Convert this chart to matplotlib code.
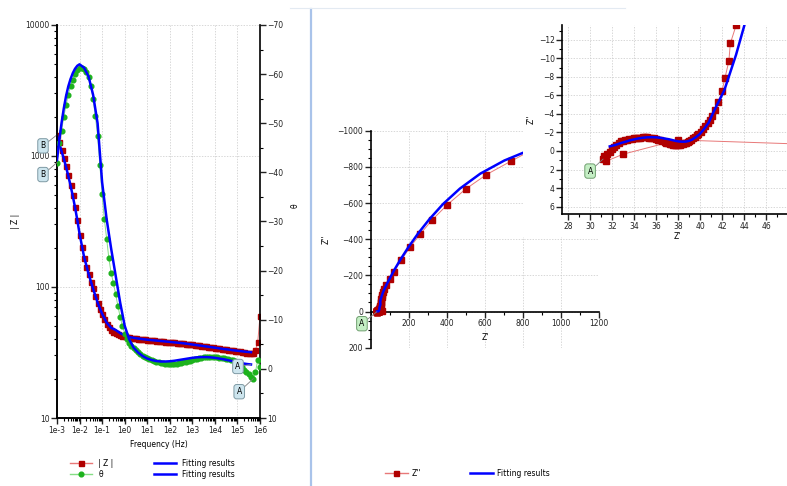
import numpy as np
import matplotlib.pyplot as plt
from matplotlib.lines import Line2D
from matplotlib.ticker import LogLocator, MultipleLocator, FuncFormatter, NullFormatter, FixedLocator

plt.rcParams['font.family'] = ['DejaVu Sans']
plt.rcParams['font.size'] = 5.5
plt.rcParams['axes.linewidth'] = 1.2

# Measured spectrum (10 points per decade), log10 of frequency in Hz
log_f = [-3.0, -2.9, -2.8, -2.7, -2.6, -2.5, -2.4, -2.3, -2.2, -2.1,
         -2.0, -1.9, -1.8, -1.7, -1.6, -1.5, -1.4, -1.3, -1.2, -1.1,
         -1.0, -0.9, -0.8, -0.7, -0.6, -0.5, -0.4, -0.3, -0.2, -0.1,
         0.0, 0.1, 0.2, 0.3, 0.4, 0.5, 0.6, 0.7, 0.8, 0.9,
         1.0, 1.1, 1.2, 1.3, 1.4, 1.5, 1.6, 1.7, 1.8, 1.9,
         2.0, 2.1, 2.2, 2.3, 2.4, 2.5, 2.6, 2.7, 2.8, 2.9,
         3.0, 3.1, 3.2, 3.3, 3.4, 3.5, 3.6, 3.7, 3.8, 3.9,
         4.0, 4.1, 4.2, 4.3, 4.4, 4.5, 4.6, 4.7, 4.8, 4.9,
         5.0, 5.1, 5.2, 5.3, 5.4, 5.5, 5.6, 5.7, 5.8, 5.9,
         6.0]
z_mod = [1450, 1270, 1110, 970, 840, 715, 600, 500, 410, 325,
         250, 203, 167, 143, 125, 110, 98, 86, 75, 68,
         62, 56.5, 52, 49.2, 47, 45.4, 44.3, 43.7, 43, 42.5,
         42, 41.6, 41.3, 41.0, 40.8, 40.5, 40.3, 40.1, 39.9, 39.75,
         39.6, 39.4, 39.2, 39.05, 38.9, 38.75, 38.6, 38.45, 38.3, 38.15,
         38.0, 37.85, 37.7, 37.55, 37.4, 37.25, 37.1, 36.95, 36.8, 36.6,
         36.4, 36.2, 36.0, 35.8, 35.6, 35.4, 35.2, 35.0, 34.8, 34.6,
         34.4, 34.2, 34.0, 33.8, 33.6, 33.4, 33.2, 33.0, 32.8, 32.6,
         32.4, 32.2, 32.0, 31.8, 31.5, 31.3, 31.2, 31.5, 33, 38,
         60]
theta = [-42, -46, -48.5, -51.3, -53.7, -55.8, -57.6, -58.9, -60, -60.8,
         -61.3, -61.3, -61, -60.4, -59.5, -57.6, -55, -51.5, -47.5, -41.5,
         -35.5, -30.5, -26.5, -22.5, -19.5, -17.5, -15.2, -12.8, -10.6, -8.8,
         -7.2, -6.1, -5.3, -4.7, -4.2, -3.8, -3.4, -3.0, -2.7, -2.45,
         -2.2, -2.0, -1.8, -1.65, -1.5, -1.35, -1.25, -1.15, -1.05, -1.0,
         -0.95, -0.93, -0.95, -1.0, -1.1, -1.2, -1.3, -1.42, -1.55, -1.68,
         -1.8, -1.95, -2.1, -2.2, -2.3, -2.35, -2.4, -2.42, -2.4, -2.38,
         -2.35, -2.32, -2.3, -2.22, -2.15, -2.08, -2.0, -1.9, -1.8, -1.55,
         -1.2, -0.8, -0.3, 0.2, 0.6, 1.0, 1.6, 2.0, 0.6, -1.8,
         -0.3]

# Fitted model
log_f_fit = [-3.0, -2.9, -2.8, -2.7, -2.6, -2.5, -2.4, -2.3, -2.2, -2.1,
             -2.0, -1.8, -1.6, -1.4, -1.2, -1.0, -0.8, -0.6, -0.4, -0.2,
             0.0, 0.2, 0.4, 0.6, 0.8, 1.0, 1.2, 1.4, 1.6, 1.8,
             2.0, 2.2, 2.4, 2.6, 2.8, 3.0, 3.2, 3.4, 3.6, 3.8,
             4.0, 4.2, 4.4, 4.6, 4.8, 5.0, 5.2, 5.4, 5.6]
z_fit = [1420, 1245, 1090, 955, 825, 705, 595, 495, 405, 325,
         255, 170, 126, 97, 76, 62.5, 53.5, 48.8, 47, 44.5,
         42.7, 41.5, 40.9, 40.4, 40.0, 39.6, 39.3, 39.0, 38.7, 38.4,
         38.1, 37.8, 37.5, 37.2, 36.8, 36.4, 36.0, 35.6, 35.2, 34.8,
         34.4, 34.0, 33.6, 33.3, 32.9, 32.6, 32.3, 32.0, 31.8]
theta_fit = [-42.5, -46.5, -50, -53, -55.5, -57.5, -59, -60.2, -61.1, -61.7,
             -62, -61.3, -59.5, -55.8, -50, -38, -30.5, -24.5, -19, -13.5,
             -8.8, -6.0, -4.3, -3.3, -2.6, -2.1, -1.8, -1.6, -1.5, -1.5,
             -1.55, -1.65, -1.8, -1.95, -2.1, -2.25, -2.35, -2.4, -2.4, -2.35,
             -2.25, -2.1, -1.95, -1.75, -1.55, -1.35, -1.15, -1.0, -0.9]

freq = 10.0 ** np.array(log_f)
freq_fit = 10.0 ** np.array(log_f_fit)

# Nyquist coordinates from |Z| and phase
z_re = np.array(z_mod) * np.cos(np.radians(theta))
z_im = np.array(z_mod) * np.sin(np.radians(theta))
z_re_fit = np.array(z_fit) * np.cos(np.radians(theta_fit))
z_im_fit = np.array(z_fit) * np.sin(np.radians(theta_fit))

RED_M = '#b00000'
RED_L = '#e87878'
GREEN_M = '#1db21d'
GREEN_L = '#86dd86'
BLUE = '#0000ff'
GRID = dict(color='#c8c8c8', ls=(0, (2, 2)), lw=0.5)
W, H = 787, 486


def box(x0, y0, x1, y1):
    # pixel box (top-left origin) -> figure fraction rect
    return [x0 / W, 1 - y1 / H, (x1 - x0) / W, (y1 - y0) / H]


def style_ticks(ax):
    ax.tick_params(which='major', direction='out', length=4, width=1.0, pad=1.5, labelsize=5.5, colors='#222222')
    ax.tick_params(which='minor', direction='out', length=2.2, width=0.8)


fig = plt.figure(figsize=(W / 100, H / 100), dpi=100)

# separators of the two windows
fig.add_artist(Line2D([311 / W, 311 / W], [0, 1 - 9 / H], transform=fig.transFigure, color='#a9c3ea', lw=1.6))
fig.add_artist(Line2D([290 / W, 625 / W], [1 - 8 / H, 1 - 8 / H], transform=fig.transFigure, color='#e3eaf2', lw=0.8))

# ---------------- Bode plot ----------------
ax1 = fig.add_axes(box(57, 25, 260, 418))
ax1.set_xscale('log')
ax1.set_yscale('log')
ax1.set_xlim(1e-3, 1e6)
ax1.set_ylim(10, 10000)
ax1.plot(freq, z_mod, color=RED_L, lw=0.7, marker='s', ms=3.6, mfc=RED_M, mec=RED_M, zorder=3)
ax1.plot(freq_fit, z_fit, color=BLUE, lw=1.8, zorder=4)
ax1.xaxis.set_major_locator(LogLocator(base=10, numticks=20))
ax1.xaxis.set_minor_locator(LogLocator(base=10, subs=np.arange(2, 10), numticks=20))
ax1.xaxis.set_major_formatter(FuncFormatter(lambda v, p: '1e%d' % round(np.log10(v))))
ax1.xaxis.set_minor_formatter(NullFormatter())
ax1.yaxis.set_major_locator(FixedLocator([10, 100, 1000, 10000]))
ax1.yaxis.set_major_formatter(FuncFormatter(lambda v, p: '%d' % v))
ax1.yaxis.set_minor_locator(LogLocator(base=10, subs=np.arange(2, 10), numticks=20))
ax1.yaxis.set_minor_formatter(NullFormatter())
ax1.grid(which='major', **GRID)
for s in ['top', 'right']:
    ax1.spines[s].set_visible(False)
style_ticks(ax1)
ax1.set_xlabel('Frequency (Hz)', fontsize=5.5)
ax1.xaxis.set_label_coords(0.5, -0.055)
ax1.set_ylabel('| Z |', fontsize=5.5)
ax1.yaxis.set_label_coords(-0.18, 0.5)

ax2 = ax1.twinx()
ax2.set_ylim(10, -70)
ax2.plot(freq, theta, color=GREEN_L, lw=0.7, marker='o', ms=3.4, mfc=GREEN_M, mec=GREEN_M, zorder=3)
ax2.plot(freq_fit, theta_fit, color=BLUE, lw=1.8, zorder=4)
ax2.yaxis.set_major_locator(MultipleLocator(10))
ax2.yaxis.set_minor_locator(MultipleLocator(5))
ax2.spines['top'].set_visible(False)
style_ticks(ax2)
ax2.set_ylabel('θ', fontsize=5.5)
ax2.yaxis.set_label_coords(1.15, 0.54)

lbl_b = dict(boxstyle='round,pad=0.35', fc='#cde5ee', ec='#7e9aa4', lw=0.7)
arr = dict(arrowstyle='-', color='#808080', lw=0.6, shrinkA=0, shrinkB=0)
ax1.annotate('B', xy=(freq[0], z_mod[0]), xytext=(-14, -11), textcoords='offset pixels',
             ha='center', va='center', fontsize=5.5, bbox=lbl_b, arrowprops=arr, annotation_clip=False, zorder=6)
ax2.annotate('B', xy=(freq[0], theta[0]), xytext=(-14, -12), textcoords='offset pixels',
             ha='center', va='center', fontsize=5.5, bbox=lbl_b, arrowprops=arr, annotation_clip=False, zorder=6)
ax2.annotate('A', xy=(freq_fit[-1], theta_fit[-1]), xytext=(-13, -2), textcoords='offset pixels',
             ha='center', va='center', fontsize=5.5, bbox=lbl_b, arrowprops=arr, zorder=6)
ax2.annotate('A', xy=(freq[87], theta[87]), xytext=(-14, -13), textcoords='offset pixels',
             ha='center', va='center', fontsize=5.5, bbox=lbl_b, arrowprops=arr, zorder=6)

h_z = Line2D([], [], color=RED_L, lw=1.0, marker='s', ms=3.6, mfc=RED_M, mec=RED_M)
h_t = Line2D([], [], color=GREEN_L, lw=1.0, marker='o', ms=3.4, mfc=GREEN_M, mec=GREEN_M)
h_f = Line2D([], [], color=BLUE, lw=1.8)
fig.legend([h_z, h_t, h_f, h_f], ['| Z |', 'θ', 'Fitting results', 'Fitting results'],
           ncol=2, loc='upper left', bbox_to_anchor=(70 / W, 1 - 459 / H), frameon=False, fontsize=5.5,
           handlelength=2.9, handletextpad=0.8, columnspacing=5.3, labelspacing=0.2,
           borderpad=0, borderaxespad=0)

# ---------------- Nyquist plot ----------------
ax3 = fig.add_axes(box(371, 130.7, 599.3, 347.7))
ax3.set_xlim(0, 1200)
ax3.set_ylim(200, -1000)
ax3.plot(z_re, z_im, color=RED_L, lw=0.7, marker='s', ms=4, mfc=RED_M, mec=RED_M, zorder=3)
ax3.plot(z_re_fit, z_im_fit, color=BLUE, lw=1.8, zorder=4)
ax3.spines['bottom'].set_position(('data', 0))
for s in ['top', 'right']:
    ax3.spines[s].set_visible(False)
ax3.xaxis.set_major_locator(FixedLocator([200, 400, 600, 800, 1000, 1200]))
ax3.xaxis.set_minor_locator(MultipleLocator(100))
ax3.yaxis.set_major_locator(MultipleLocator(200))
ax3.yaxis.set_minor_locator(MultipleLocator(50))
ax3.grid(which='major', **GRID)
style_ticks(ax3)
ax3.set_xlabel("Z'", fontsize=5.5)
ax3.xaxis.set_label_coords(0.5, 0.07)
ax3.set_ylabel("Z''", fontsize=5.5)
ax3.yaxis.set_label_coords(-0.175, 0.5)

lbl_a = dict(boxstyle='round,pad=0.35', fc='#c4eec4', ec='#6f9f6f', lw=0.7)
ax3.annotate('A', xy=(z_re[86], z_im[86]), xytext=(-15, -12), textcoords='offset pixels',
             ha='center', va='center', fontsize=5.5, bbox=lbl_a, arrowprops=arr, annotation_clip=False, zorder=6)

# white backing of the zoomed window
cover = fig.add_axes(box(523, 9, 787, 237))
cover.set_facecolor('white')
cover.set_xticks([])
cover.set_yticks([])
for s in cover.spines.values():
    s.set_visible(False)

# ---------------- zoomed Nyquist inset ----------------
ax4 = fig.add_axes(box(562.3, 25, 787, 214))
ax4.set_xlim(27.48, 47.9)
ax4.set_ylim(6.8, -13.6)
ax4.plot(z_re, z_im, color=RED_L, lw=0.7, marker='s', ms=4, mfc=RED_M, mec=RED_M, zorder=3)
ax4.plot(z_re_fit, z_im_fit, color=BLUE, lw=1.8, zorder=4)
for s in ['top', 'right']:
    ax4.spines[s].set_visible(False)
ax4.xaxis.set_major_locator(MultipleLocator(2))
ax4.xaxis.set_minor_locator(MultipleLocator(1))
ax4.yaxis.set_major_locator(MultipleLocator(2))
ax4.yaxis.set_minor_locator(MultipleLocator(1))
ax4.grid(which='major', **GRID)
style_ticks(ax4)
ax4.set_xlabel("Z'", fontsize=5.5)
ax4.xaxis.set_label_coords(0.51, -0.095)
ax4.set_ylabel("Z''", fontsize=5.5)
ax4.yaxis.set_label_coords(-0.12, 0.5)
ax4.annotate('A', xy=(z_re[86], z_im[86]), xytext=(-13, -12), textcoords='offset pixels',
             ha='center', va='center', fontsize=5.5, bbox=lbl_a, arrowprops=arr, zorder=6)

h_zz = Line2D([], [], color=RED_L, lw=1.0, marker='s', ms=3.6, mfc=RED_M, mec=RED_M)
fig.legend([h_zz, h_f], ["Z''", 'Fitting results'], ncol=2, loc='upper left',
           bbox_to_anchor=(385 / W, 1 - 469 / H), frameon=False, fontsize=5.5,
           handlelength=3.0, handletextpad=0.5, columnspacing=6.4, borderpad=0, borderaxespad=0)

fig.savefig('out.png', dpi=100)
